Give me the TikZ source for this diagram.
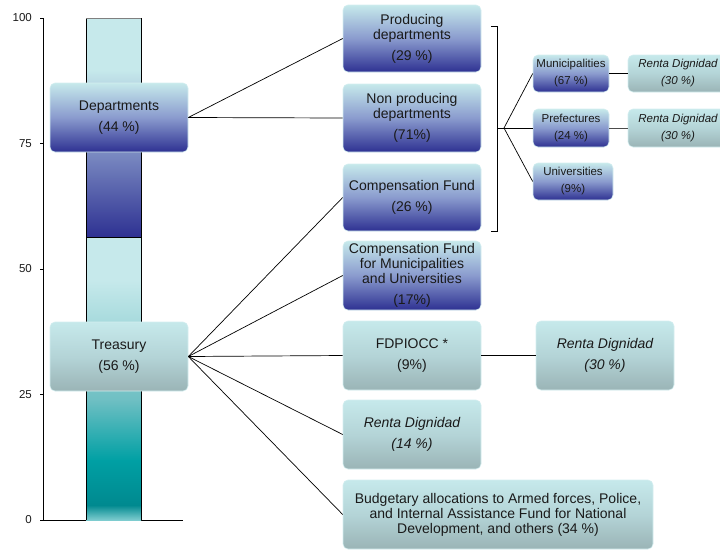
\documentclass[tikz,border=0pt]{standalone}
\usepackage{fontspec}
\setmainfont{Liberation Sans}
\definecolor{lc}{HTML}{C6E9EB}
\definecolor{navy}{HTML}{2E3192}
\definecolor{midblue}{HTML}{8A9BCE}
\definecolor{gt}{HTML}{9AB4B6}
\definecolor{midgt}{HTML}{B4D4D7}
\definecolor{boxedge}{HTML}{D4EEF0}
\definecolor{txt}{HTML}{1A1A1A}
\definecolor{cA}{HTML}{B8DDE3}
\definecolor{cB}{HTML}{7B8BC2}
\definecolor{tA}{HTML}{6EBFC3}
\definecolor{tB}{HTML}{00A0A4}
\definecolor{tC}{HTML}{00898F}
\definecolor{tD}{HTML}{7ECCCF}
\begin{document}
\begin{tikzpicture}[x=1pt,y=-1pt,
  box/.style={rectangle, rounded corners=5pt, draw=boxedge, line width=0.6pt, align=center,
    inner sep=0pt, text=txt, font=\fontsize{14}{15}\selectfont},
  bluebox/.style={box, top color=lc, bottom color=navy, middle color=midblue},
  tealbox/.style={box, top color=lc, bottom color=gt, middle color=midgt},
  smallfont/.style={font=\fontsize{11.5}{13}\selectfont},
  link/.style={draw=black, line width=0.7pt},
  axlabel/.style={anchor=east, inner sep=0pt, font=\fontsize{11.5}{13}\selectfont, text=txt}]
\useasboundingbox (0,0) rectangle (720,550);

% axis
\draw[line width=0.8pt] (43,18) -- (43,520) -- (183,520);
\foreach \v/\y in {100/18,75/143.5,50/269,25/394.5,0/520}{
  \draw[line width=0.6pt] (40,\y) -- (43,\y);
  \node[axlabel] at (32,\y) {\v};
}

% bar, top segment
\fill[lc] (86,18) rectangle (141,70.5);
\shade[top color=lc, bottom color=cB] (86,70) rectangle (141,152.5);
\shade[top color=cB, bottom color=navy] (86,152) rectangle (141,237);
% bar, bottom segment
\fill[lc] (86,237) rectangle (141,280.5);
\shade[top color=lc, bottom color=tA] (86,280) rectangle (141,400.5);
\shade[top color=tA, bottom color=tB] (86,400) rectangle (141,460.5);
\shade[top color=tB, bottom color=tC] (86,460) rectangle (141,505.5);
\shade[top color=tC, bottom color=tD] (86,505) rectangle (141,520);
\draw[line width=0.8pt] (86,520) -- (86,18) -- (141,18) -- (141,520);
\draw[line width=0.8pt] (86,237) -- (141,237);
\draw[gray, line width=0.8pt] (86,18) -- (141,18);

% left boxes
\node[bluebox, minimum width=138pt, minimum height=69pt] (dep) at (119,117.5) {Departments\\[6pt](44 \%)};
\node[tealbox, minimum width=138pt, minimum height=69pt] (tre) at (119,356.5) {Treasury\\[6pt](56 \%)};

% right column
\node[bluebox, minimum width=138pt, minimum height=67pt] (prod) at (412,38.5) {Producing\\departments\\[6pt](29 \%)};
\node[bluebox, minimum width=138pt, minimum height=68pt] (nonprod) at (412,118) {Non producing\\departments\\[6pt](71\%)};
\node[bluebox, minimum width=138pt, minimum height=67pt] (comp) at (412,197.5) {Compensation Fund\\[6pt](26 \%)};
\node[bluebox, minimum width=138pt, minimum height=69pt] (compmu) at (412,275.5) {Compensation Fund\\for Municipalities\\and Universities\\[6pt](17\%)};
\node[tealbox, minimum width=138pt, minimum height=69pt] (fdp) at (412,355.5) {FDPIOCC *\\[6pt](9\%)};
\node[tealbox, minimum width=138pt, minimum height=69pt] (rd14) at (412,434.5) {\itshape Renta Dignidad\\[6pt]\itshape (14 \%)};
\node[tealbox, minimum width=310pt, minimum height=69pt] (budg) at (498,514.5) {Budgetary allocations to Armed forces, Police,\\and Internal Assistance Fund for National\\Development, and others (34 \%)};
\node[tealbox, minimum width=138pt, minimum height=69pt] (rd30) at (605,355.5) {\itshape Renta Dignidad\\[6pt]\itshape (30 \%)};

% small boxes
\node[bluebox, smallfont, minimum width=76pt, minimum height=37pt] (mun) at (571,73.5) {Municipalities\\[4pt](67 \%)};
\node[bluebox, smallfont, minimum width=76pt, minimum height=38pt] (pref) at (571,128) {Prefectures\\[4pt](24 \%)};
\node[bluebox, smallfont, minimum width=80pt, minimum height=37pt] (univ) at (573,181.5) {Universities\\[4pt](9\%)};
\node[tealbox, smallfont, minimum width=100pt, minimum height=37pt] (rdm) at (678,73.5) {\itshape Renta Dignidad\\[4pt]\itshape (30 \%)};
\node[tealbox, smallfont, minimum width=100pt, minimum height=38pt] (rdp) at (678,128) {\itshape Renta Dignidad\\[4pt]\itshape (30 \%)};

% bracket
\coordinate (bk) at (504,128);
\draw[line width=0.7pt] (491,26) -- (497,26) -- (497,231) -- (491,231);
\draw[link] (497,128) -- (bk);

% connectors
\draw[link] (dep.east) -- (prod.west);
\draw[link] (dep.east) -- (nonprod.west);
\draw[link] (tre.east) -- (comp.west);
\draw[link] (tre.east) -- (compmu.west);
\draw[link] (tre.east) -- (fdp.west);
\draw[link] (tre.east) -- (rd14.west);
\draw[link] (tre.east) -- (budg.west);
\draw[link] (fdp.east) -- (rd30.west);
\draw[link] (bk) -- (mun.west);
\draw[link] (bk) -- (pref.west);
\draw[link] (bk) -- (univ.west);
\draw[link] (mun.east) -- (rdm.west);
\draw[link, draw=black!70] (pref.east) -- (rdp.west);
\end{tikzpicture}
\end{document}
